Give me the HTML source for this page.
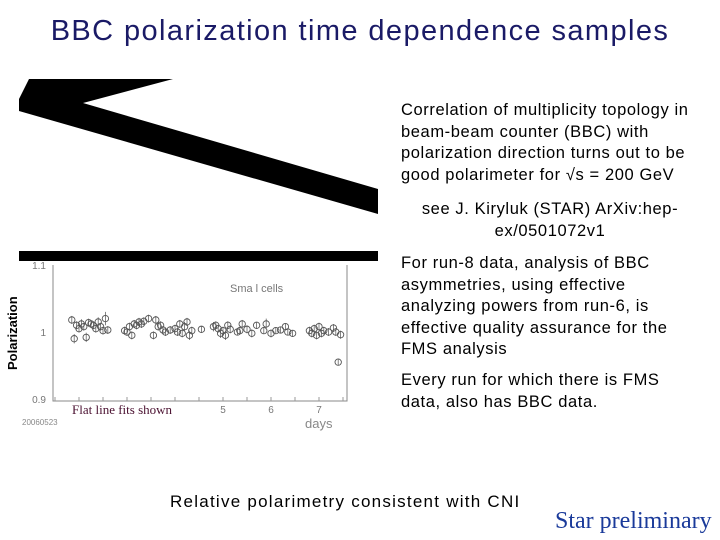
<!DOCTYPE html>
<html><head><meta charset="utf-8"><style>
body{margin:0;width:720px;height:540px;background:#fff;overflow:hidden;position:relative;font-family:"Liberation Sans",sans-serif}
.t{position:absolute;font-size:16.5px;line-height:21.5px;color:#000;letter-spacing:0.6px}
</style></head><body>
<div style="position:absolute;left:0;width:720px;top:15px;text-align:center;font-size:29px;letter-spacing:1.4px;color:#1a1a66;">BBC polarization time dependence samples</div>
<svg width="720" height="540" style="position:absolute;left:0;top:0">
<polygon points="29,79 173,79 83,103 378,189 378,214 19,111 19,99" fill="#000"/>
<rect x="19" y="251" width="359" height="10" fill="#000"/>
</svg>
<svg id="chart" width="720" height="540" style="position:absolute;left:0;top:0"></svg>
<div class="t" style="left:401px;top:100px;width:300px">Correlation of multiplicity topology in beam-beam counter (BBC) with polarization direction turns out to be good polarimeter for √s = 200 GeV</div>
<div class="t" style="left:400px;top:199px;width:300px;text-align:center">see J. Kiryluk (STAR) ArXiv:hep-ex/0501072v1</div>
<div class="t" style="left:401px;top:253px;width:285px">For run-8 data, analysis of BBC asymmetries, using effective analyzing powers from run-6, is effective quality assurance for the FMS analysis</div>
<div class="t" style="left:401px;top:370px;width:285px">Every run for which there is FMS data, also has BBC data.</div>
<div class="t" style="left:170px;top:491px;font-size:17px;letter-spacing:1.25px">Relative polarimetry consistent with CNI</div>
<div style="position:absolute;left:555px;top:508px;font-family:'Liberation Serif',serif;font-size:24px;color:#1a3a9a">Star preliminary</div>
<script>
const xTicks=[5,6,7];
const yTicks=[0.9,1,1.1];
const days=[1.85,1.9,1.95,2.0,2.05,2.1,2.15,2.2,2.25,2.3,2.35,2.4,2.45,2.5,2.55,2.6,2.95,3.0,3.05,3.1,3.15,3.2,3.25,3.3,3.35,3.45,3.55,3.6,3.65,3.7,3.75,3.8,3.9,4.0,4.05,4.1,4.15,4.2,4.25,4.3,4.35,4.55,4.8,4.85,4.9,4.95,5.0,5.05,5.1,5.15,5.3,5.35,5.4,5.5,5.6,5.7,5.85,5.9,6.0,6.1,6.2,6.3,6.35,6.45,6.8,6.85,6.9,6.95,7.0,7.05,7.1,7.2,7.3,7.35,7.4,7.45];
const values=[1.018,0.99,1.01,1.005,1.012,1.008,0.992,1.014,1.012,1.01,1.005,1.015,1.008,1.002,1.02,1.003,1.002,1.0,1.008,0.995,1.012,1.01,1.015,1.012,1.016,1.02,0.995,1.018,1.008,1.01,1.003,1.0,1.003,1.005,1.0,1.012,0.998,1.008,1.015,0.995,1.002,1.004,1.008,1.01,1.005,0.998,1.002,0.995,1.01,1.004,1.0,1.002,1.012,1.004,0.998,1.01,1.002,1.012,0.998,1.002,1.003,1.008,1.0,0.998,1.002,0.998,1.005,0.995,1.008,0.998,1.002,1.0,1.006,1.0,0.955,0.996];
const errs=[0.006,0.007,0.006,0.006,0.007,0.006,0.007,0.006,0.006,0.006,0.006,0.007,0.006,0.006,0.01,0.006,0.006,0.006,0.006,0.006,0.006,0.006,0.006,0.006,0.006,0.006,0.006,0.006,0.006,0.006,0.006,0.006,0.006,0.006,0.006,0.006,0.006,0.007,0.006,0.007,0.006,0.005,0.007,0.006,0.006,0.007,0.006,0.007,0.006,0.006,0.005,0.006,0.006,0.006,0.006,0.005,0.005,0.008,0.006,0.005,0.005,0.005,0.005,0.005,0.006,0.006,0.006,0.006,0.006,0.006,0.006,0.006,0.006,0.006,0.005,0.006];
const NS='http://www.w3.org/2000/svg';
const svg=document.getElementById('chart');
const X=d=>223+(d-5)*48;
const Y=v=>332-(v-1)*670;
function mk(tag,attrs,parent){const e=document.createElementNS(NS,tag);for(const k in attrs)e.setAttribute(k,attrs[k]);(parent||svg).appendChild(e);return e;}
const frame=mk('path',{d:'M53,265 L53,401 L347,401 L347,265',fill:'none',stroke:'#888','stroke-width':1});


for(const v of yTicks){const t=mk('text',{x:46,y:Y(v)+4,'text-anchor':'end','font-size':10,fill:'#777','font-family':'Liberation Sans'});t.textContent=v===1?'1':v.toFixed(1);

}
for(const v of xTicks){const t=mk('text',{x:X(v),y:413,'text-anchor':'middle','font-size':10,fill:'#777','font-family':'Liberation Sans'});t.textContent=v;

}
for(let d=1.5;d<=7.5;d+=0.5){const l=mk('line',{x1:X(d),x2:X(d),y1:401,y2:397,stroke:'#999'});

}
for(let i=0;i<days.length;i++){
const g=mk('g',{});


mk('line',{x1:X(days[i]),x2:X(days[i]),y1:Y(values[i]+errs[i]),y2:Y(values[i]-errs[i]),stroke:'#666','stroke-width':0.8},g);
mk('circle',{cx:X(days[i]),cy:Y(values[i]),r:3.2,fill:'none',stroke:'#555','stroke-width':0.9},g);}
const lbl=[['Sma l cells',230,292,11,'#777','Liberation Sans'],['days',305,428,13,'#888','Liberation Sans'],['20060523',22,425,8,'#888','Liberation Sans']];
for(const a of lbl){const t=mk('text',{x:a[1],y:a[2],'font-size':a[3],fill:a[4],'font-family':a[5]});t.textContent=a[0];

}
const f=mk('text',{x:72,y:414,'font-size':13,fill:'#4a1030','font-family':'Liberation Serif'});f.textContent='Flat line fits shown';


const yl=mk('text',{x:0,y:0,'font-size':13,'font-weight':'bold',fill:'#000','font-family':'Liberation Sans',transform:'translate(17,370) rotate(-90)'});yl.textContent='Polarization';


</script>
</body></html>
